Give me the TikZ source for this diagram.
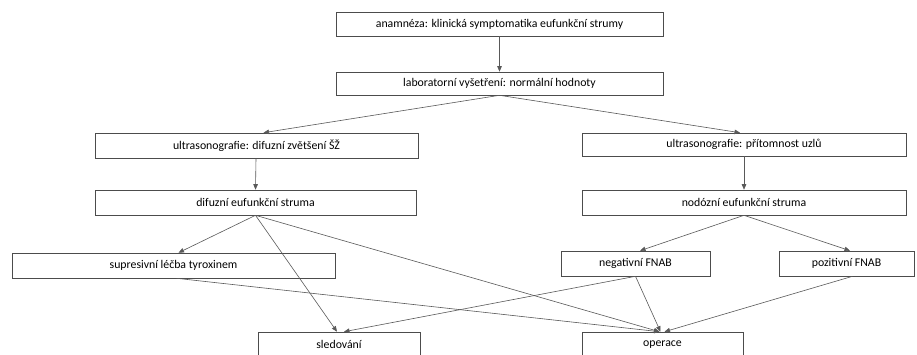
\documentclass[tikz,border=0pt]{standalone}
\usepackage{fontspec}
\setmainfont{Carlito}
\usetikzlibrary{arrows.meta}
\begin{document}
\begin{tikzpicture}[x=1pt,y=-1pt,
  box/.style={draw=black!70,line width=0.6pt,fill=white,inner sep=0pt,
    font=\fontsize{11.8}{14}\selectfont,text=black},
  conn/.style={draw=black!65,line width=0.6pt,-{Triangle[length=5.5pt,width=4.5pt]}}]
\useasboundingbox (0,0) rectangle (917,354);
\clip (0,0) rectangle (917,354);
\fill[white] (0,0) rectangle (917,354);
\node[box,minimum width=327pt,minimum height=24pt] (b1) at (499.5,24) {anamnéza: klinická symptomatika eufunkční strumy};
\node[box,minimum width=327pt,minimum height=23pt] (b2) at (499.5,83.5) {laboratorní vyšetření: normální hodnoty};
\node[box,minimum width=323pt,minimum height=25pt] (b3) at (256.5,145.5) {ultrasonografie: difuzní zvětšení ŠŽ};
\node[box,minimum width=324pt,minimum height=23pt] (b4) at (744,144.5) {ultrasonografie: přítomnost uzlů};
\node[box,minimum width=321pt,minimum height=25pt] (b5) at (255.5,202.5) {difuzní eufunkční struma};
\node[box,minimum width=324pt,minimum height=25pt] (b6) at (744,202.5) {nodózní eufunkční struma};
\node[box,minimum width=323pt,minimum height=25pt] (b7) at (173.5,265.5) {supresivní léčba tyroxinem};
\node[box,minimum width=149pt,minimum height=25pt] (b8) at (635.5,263.5) {negativní FNAB};
\node[box,minimum width=135pt,minimum height=25pt] (b9) at (846.5,263.5) {pozitivní FNAB};
\node[box,minimum width=162pt,minimum height=25pt] (b10) at (339,344.5) {sledování};
\node[box,minimum width=161pt,minimum height=25pt] (b11) at (662.5,344.5) {operace};
\draw[conn] (b1.south) -- (b2.north);
\draw[conn] (b2.south) -- ([xshift=7pt]b3.north);
\draw[conn] (b2.south) -- ([xshift=-4pt]b4.north);
\draw[conn] ([xshift=0.5pt]b5.north |- b3.south) -- (b5.north);
\draw[conn] (b4.south) -- (b6.north);
\draw[conn] (b5.south) -- ([xshift=5pt]b7.north);
\draw[conn] (b5.south) -- ([xshift=-2pt]b10.north);
\draw[conn] (b5.south) -- ([xshift=-3pt]b11.north);
\draw[conn] ([xshift=3pt]b7.south) -- ([xshift=-3pt]b11.north);
\draw[conn] (b6.south) -- ([xshift=4.5pt]b8.north);
\draw[conn] (b6.south) -- ([xshift=3.5pt]b9.north);
\draw[conn] (b8.south) -- ([xshift=5pt]b10.north);
\draw[conn] (b8.south) -- ([xshift=-2pt]b11.north);
\draw[conn] ([xshift=6pt]b9.south) -- ([xshift=2pt]b11.north);
\end{tikzpicture}
\end{document}
